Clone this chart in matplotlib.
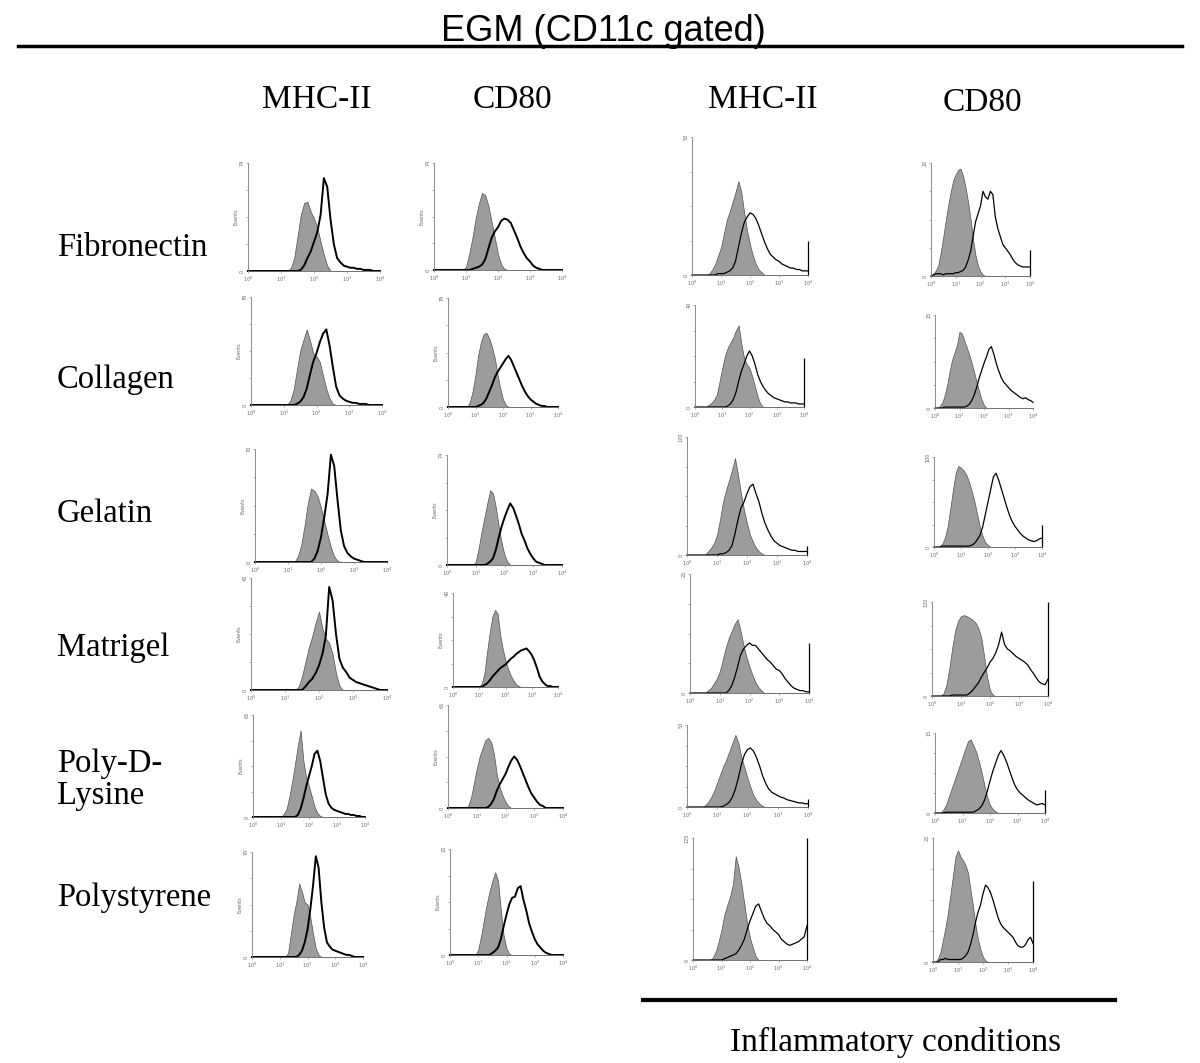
"""Flow cytometry histogram grid: EGM (CD11c gated)."""

import matplotlib
matplotlib.use("Agg")
import matplotlib.pyplot as plt
from matplotlib.lines import Line2D
import numpy as np

W, H = 1200, 1063
DEC = np.linspace(0, 4, 41)  # log10 fluorescence, 0.1-decade channels

ROWS = ["Fibronectin", "Collagen", "Gelatin", "Matrigel", "Poly-D-\nLysine", "Polystyrene"]
HEADERS = ["MHC-II", "CD80", "MHC-II", "CD80"]

# (first channel in decades, % of y-axis max) -- isotype (grey) and stained (black)
fib_mhc_iso = (1.2, [0, 3, 12, 32, 52, 63, 64, 55, 49, 40, 27, 15, 5, 0])
fib_mhc_pos = (1.6, [1, 5, 12, 18, 27, 36, 52, 86, 78, 48, 25, 12, 8, 5, 4, 3, 3, 2, 2, 1, 1, 1, 0])
fib_cd80_iso = (0.9, [0, 3, 15, 30, 48, 62, 72, 70, 60, 45, 30, 15, 5, 1, 0])
fib_cd80_pos = (1.1, [0, 1, 2, 3, 5, 10, 20, 30, 36, 40, 46, 48, 47, 44, 37, 30, 22, 16, 11, 8, 4, 2, 1, 0])
fib_mhc_inf_iso = (0.5, [0, 1, 4, 8, 14, 20, 30, 40, 46, 53, 60, 68, 60, 45, 32, 22, 14, 8, 4, 2, 0])
fib_mhc_inf_pos = (0.8, [0, 1, 1, 1, 2, 3, 5, 10, 20, 30, 38, 42, 45, 44, 41, 36, 30, 24, 19, 15,
                         13, 11, 10, 8, 7, 6, 5, 5, 4, 4, 3, 3, 3])
fib_cd80_inf_iso = (0.0, [0, 2, 5, 10, 22, 35, 50, 63, 75, 85, 90, 94, 95, 88, 78, 65, 50, 32, 18, 9, 4, 1, 0])
fib_cd80_inf_pos = (0.0, [0, 1, 2, 2, 2, 1, 2, 2, 2, 2, 3, 3, 4, 5, 8, 14, 22, 35, 48, 55, 62, 75, 70, 68,
                          75, 72, 52, 42, 35, 28, 25, 22, 19, 15, 12, 10, 9, 8, 8, 8, 8])

col_mhc_iso = (1.1, [0, 4, 14, 32, 50, 60, 70, 60, 48, 45, 40, 27, 15, 6, 1, 0])
col_mhc_pos = (1.3, [0, 1, 3, 7, 15, 28, 40, 48, 58, 66, 70, 55, 35, 17, 9, 6, 4, 3, 2, 2, 1, 1, 1, 0])
col_cd80_iso = (0.7, [0, 5, 15, 30, 48, 60, 67, 68, 63, 55, 45, 30, 17, 7, 2, 0])
col_cd80_pos = (1.0, [0, 1, 2, 4, 8, 14, 20, 27, 32, 36, 40, 44, 47, 43, 37, 31, 25, 19, 14, 10, 7, 5, 3, 2, 1, 1, 0])
col_mhc_inf_iso = (0.4, [0, 2, 4, 7, 12, 25, 38, 50, 58, 63, 68, 75, 80, 62, 48, 42, 38, 30, 20, 10, 3, 0])
col_mhc_inf_pos = (1.1, [0, 1, 3, 7, 14, 25, 35, 42, 50, 55, 50, 42, 32, 25, 20, 16, 13, 11, 9, 8,
                         7, 6, 5, 5, 4, 4, 4, 3, 3, 3])
col_cd80_inf_iso = (0.1, [0, 2, 6, 14, 25, 40, 52, 60, 68, 82, 80, 72, 65, 57, 48, 38, 28, 18, 9, 3, 0])
col_cd80_inf_pos = (0.3, [0, 1, 1, 1, 1, 1, 1, 1, 1, 1, 2, 4, 8, 14, 22, 32, 40, 48, 55, 63, 66, 58, 48,
                          40, 33, 28, 25, 22, 19, 17, 15, 13, 11, 10, 11, 9, 8, 6])

gel_mhc_iso = (1.2, [0, 5, 15, 32, 52, 65, 63, 58, 48, 36, 24, 13, 5, 1, 0])
gel_mhc_pos = (1.7, [0, 3, 10, 22, 40, 60, 95, 85, 55, 28, 14, 8, 5, 3, 2, 1, 0])
gel_cd80_iso = (0.9, [0, 3, 15, 30, 43, 56, 68, 65, 52, 35, 20, 9, 3, 0])
gel_cd80_pos = (1.3, [0, 1, 3, 6, 14, 25, 35, 43, 50, 56, 52, 45, 37, 28, 22, 15, 10, 6, 3, 2, 1, 0])
gel_mhc_inf_iso = (0.6, [0, 3, 6, 10, 17, 30, 45, 55, 63, 72, 82, 68, 52, 38, 27, 17, 11, 6, 3, 1, 0])
gel_mhc_inf_pos = (1.0, [0, 1, 1, 2, 4, 8, 18, 30, 40, 45, 52, 58, 60, 52, 45, 35, 27, 21, 16, 12,
                         10, 8, 7, 6, 5, 4, 4, 3, 3, 3, 3])
gel_cd80_inf_iso = (0.2, [0, 3, 10, 22, 42, 63, 82, 90, 88, 85, 80, 72, 62, 50, 36, 22, 12, 5, 2, 0])
gel_cd80_inf_pos = (0.2, [0, 1, 1, 1, 1, 1, 1, 1, 1, 1, 1, 1, 2, 4, 8, 13, 22, 36, 50, 64, 78, 82, 74,
                          64, 54, 44, 35, 28, 23, 19, 15, 12, 10, 8, 7, 6, 7, 9, 10])

mat_mhc_iso = (1.3, [0, 3, 12, 25, 38, 48, 60, 70, 55, 46, 42, 32, 15, 4, 0])
mat_mhc_pos = (1.5, [0, 3, 7, 10, 15, 22, 32, 48, 92, 80, 50, 28, 20, 16, 11, 9, 7, 6, 5, 4, 3, 2, 1, 0])
mat_cd80_iso = (1.0, [0, 4, 15, 38, 58, 75, 82, 78, 55, 40, 28, 19, 12, 7, 3, 1, 0])
mat_cd80_pos = (1.1, [0, 2, 4, 7, 11, 14, 17, 20, 22, 24, 27, 30, 32, 35, 37, 39, 40, 41, 38, 34,
                      28, 20, 11, 6, 3, 1, 1, 0])
mat_mhc_inf_iso = (0.5, [0, 2, 4, 8, 12, 18, 28, 38, 46, 52, 58, 62, 52, 40, 30, 22, 15, 9, 5, 2, 0])
mat_mhc_inf_pos = (1.2, [0, 2, 6, 13, 22, 32, 37, 40, 42, 40, 40, 37, 34, 31, 28, 26, 23, 20, 19, 16,
                         12, 9, 6, 4, 3, 2, 2, 1, 1])
mat_cd80_inf_iso = (0.3, [0, 3, 12, 30, 52, 70, 80, 85, 86, 85, 83, 81, 78, 72, 62, 42, 20, 6, 1, 0])
mat_cd80_inf_pos = (0.6, [0, 1, 1, 1, 1, 1, 1, 3, 6, 10, 14, 20, 25, 30, 36, 40, 46, 55, 68, 55, 50,
                          48, 45, 42, 40, 38, 36, 33, 28, 24, 19, 15, 13, 12, 18])

pdl_mhc_iso = (1.0, [0, 3, 8, 20, 35, 52, 70, 85, 55, 38, 30, 20, 10, 4, 1, 0])
pdl_mhc_pos = (1.5, [0, 2, 8, 18, 30, 40, 50, 62, 65, 55, 38, 22, 13, 9, 7, 6, 5, 4, 3, 3, 2, 2, 1, 1, 0])
pdl_cd80_iso = (0.6, [0, 2, 10, 24, 38, 50, 58, 66, 68, 64, 52, 32, 20, 12, 6, 2, 0])
pdl_cd80_pos = (1.3, [0, 1, 4, 9, 17, 23, 28, 33, 40, 46, 50, 47, 41, 34, 27, 20, 14, 10, 6, 3, 2, 0])
pdl_mhc_inf_iso = (0.5, [0, 2, 6, 12, 20, 30, 40, 50, 58, 68, 78, 88, 78, 60, 48, 35, 24, 14, 8, 4, 1, 0])
pdl_mhc_inf_pos = (1.1, [0, 1, 3, 6, 12, 22, 36, 52, 64, 70, 72, 68, 60, 50, 38, 29, 22, 18, 16, 14,
                         12, 11, 9, 8, 7, 6, 5, 5, 4, 4])
pdl_cd80_inf_iso = (0.2, [0, 4, 10, 20, 30, 40, 50, 60, 70, 80, 90, 92, 84, 76, 64, 50, 34, 20, 10, 5, 2, 0])
pdl_cd80_inf_pos = (0.3, [0, 1, 1, 1, 1, 1, 1, 1, 1, 1, 1, 1, 3, 5, 9, 16, 27, 40, 52, 62, 72, 78, 72,
                          64, 54, 44, 35, 29, 25, 22, 19, 16, 14, 12, 10, 11, 12, 10])

pst_mhc_iso = (1.2, [0, 4, 22, 40, 53, 70, 62, 52, 50, 38, 22, 8, 2, 0])
pst_mhc_pos = (1.6, [0, 2, 6, 14, 26, 45, 68, 96, 85, 52, 28, 14, 10, 7, 6, 5, 4, 3, 2, 2, 1, 0])
pst_cd80_iso = (0.9, [0, 5, 18, 33, 48, 60, 70, 78, 70, 42, 18, 6, 1, 0])
pst_cd80_pos = (1.4, [0, 2, 4, 7, 15, 27, 38, 48, 54, 55, 63, 65, 52, 42, 30, 22, 15, 10, 7, 4, 2, 1, 0])
pst_mhc_inf_iso = (0.6, [0, 2, 7, 15, 25, 37, 45, 52, 62, 85, 76, 62, 46, 30, 18, 10, 3, 0])
pst_mhc_inf_pos = (1.0, [0, 1, 2, 3, 4, 5, 8, 12, 17, 25, 32, 38, 44, 46, 40, 34, 30, 28, 25, 23,
                         21, 17, 15, 13, 12, 13, 14, 15, 17, 19, 28])
pst_cd80_inf_iso = (0.1, [0, 3, 8, 18, 28, 40, 55, 70, 85, 90, 85, 82, 78, 72, 58, 45, 30, 18, 10, 4, 1, 0])
pst_cd80_inf_pos = (0.2, [0, 2, 2, 3, 2, 2, 2, 2, 2, 2, 3, 5, 8, 14, 22, 32, 40, 46, 55, 62, 60, 56, 50,
                          43, 36, 31, 28, 26, 24, 22, 20, 16, 13, 12, 12, 14, 18, 20, 15])

# off-scale pile-up in the last channel (% of y max)
SPIKES = [[0, 0, 25, 23], [0, 0, 48, 0], [0, 0, 8, 24],
          [0, 0, 42, 100], [0, 0, 10, 29], [0, 0, 100, 65]]
YMAX = [["74", "74", "50", "20"], ["79", "79", "40", "15"], ["70", "74", "120", "100"],
        ["43", "40", "25", "120"], ["65", "65", "50", "15"], ["70", "20", "125", "25"]]

PANELS = [
    [(fib_mhc_iso, fib_mhc_pos), (fib_cd80_iso, fib_cd80_pos),
     (fib_mhc_inf_iso, fib_mhc_inf_pos), (fib_cd80_inf_iso, fib_cd80_inf_pos)],
    [(col_mhc_iso, col_mhc_pos), (col_cd80_iso, col_cd80_pos),
     (col_mhc_inf_iso, col_mhc_inf_pos), (col_cd80_inf_iso, col_cd80_inf_pos)],
    [(gel_mhc_iso, gel_mhc_pos), (gel_cd80_iso, gel_cd80_pos),
     (gel_mhc_inf_iso, gel_mhc_inf_pos), (gel_cd80_inf_iso, gel_cd80_inf_pos)],
    [(mat_mhc_iso, mat_mhc_pos), (mat_cd80_iso, mat_cd80_pos),
     (mat_mhc_inf_iso, mat_mhc_inf_pos), (mat_cd80_inf_iso, mat_cd80_inf_pos)],
    [(pdl_mhc_iso, pdl_mhc_pos), (pdl_cd80_iso, pdl_cd80_pos),
     (pdl_mhc_inf_iso, pdl_mhc_inf_pos), (pdl_cd80_inf_iso, pdl_cd80_inf_pos)],
    [(pst_mhc_iso, pst_mhc_pos), (pst_cd80_iso, pst_cd80_pos),
     (pst_mhc_inf_iso, pst_mhc_inf_pos), (pst_cd80_inf_iso, pst_cd80_inf_pos)],
]

# panel boxes in pixels: left, top, right, bottom
BOXES = [
    [(248, 163, 380, 271), (434, 163, 562, 270), (692, 137, 808, 275), (931, 163, 1030, 276)],
    [(251, 297, 382, 405), (448, 298, 558, 407), (695, 305, 804, 407), (935, 315, 1033, 408)],
    [(255, 449, 387, 562), (447, 455, 562, 565), (687, 437, 807, 555), (934, 457, 1042, 547)],
    [(251, 578, 387, 690), (453, 593, 558, 687), (690, 574, 809, 693), (932, 602, 1048, 696)],
    [(253, 715, 365, 817), (448, 705, 563, 808), (687, 725, 808, 807), (935, 733, 1045, 813)],
    [(252, 852, 363, 957), (450, 849, 563, 955), (693, 838, 807, 960), (933, 838, 1033, 962)],
]

SERIF = "Liberation Serif"
SANS = "Liberation Sans"
AX_GREY = "#7a7a7a"


def trace(spec):
    start, vals = spec
    out = np.zeros(DEC.size)
    i = int(round(start * 10))
    vals = vals[:DEC.size - i]
    out[i:i + len(vals)] = vals
    return out


def fx(x):
    return x / W


def fy(y):
    return 1 - y / H


def draw_panel(fig, box, iso, pos, spike, ymax, col):
    l, t, r, b = box
    ax = fig.add_axes([fx(l), fy(b), (r - l) / W, (b - t) / H])
    inflamed = col >= 2
    lw = 0.9 if inflamed else 1.4
    ax.fill_between(DEC, trace(iso), 0, facecolor="#9c9c9c", edgecolor="#505050", linewidth=0.5)
    ax.plot(DEC, trace(pos), color="black", linewidth=lw, clip_on=False)
    if spike:
        ax.vlines(4, 0, spike, color="black", linewidth=lw, clip_on=False)
    ax.set_xlim(0, 4)
    ax.set_ylim(0, 100)
    ax.spines["top"].set_visible(False)
    ax.spines["right"].set_visible(False)
    for s in ("left", "bottom"):
        ax.spines[s].set_color(AX_GREY)
        ax.spines[s].set_linewidth(0.6)
    ax.set_xticks(range(5))
    ax.set_xticklabels([f"$10^{k}$" for k in range(5)], fontsize=3.5, color="#666666")
    ax.set_yticks([0, 25, 50, 75, 100])
    ax.set_yticklabels(["0", "", "", "", ymax], fontsize=3.5, color="#666666",
                       rotation=90, va="center")
    ax.tick_params(length=1.5, width=0.4, pad=1, color=AX_GREY)
    if not inflamed:
        ax.set_ylabel("Events", fontsize=3.5, color="#666666", labelpad=1)
    ax.patch.set_alpha(0)


fig = plt.figure(figsize=(W / 100, H / 100), dpi=100, facecolor="white")

for ri in range(len(ROWS)):
    for ci in range(len(HEADERS)):
        iso, pos = PANELS[ri][ci]
        draw_panel(fig, BOXES[ri][ci], iso, pos, SPIKES[ri][ci], YMAX[ri][ci], ci)

# title and rule
fig.text(fx(603), fy(41), "EGM (CD11c gated)", fontsize=26, family=SANS, ha="center", va="baseline")
fig.add_artist(Line2D([fx(18), fx(1182)], [fy(46), fy(46)], color="black", linewidth=2.5))

for x, y, lab in zip([317, 512, 763, 982], [100, 100, 100, 103], HEADERS):
    fig.text(fx(x), fy(y), lab, fontsize=24, family=SERIF, ha="center", va="center")

for y, lab in zip([248, 380, 514, 648, 780, 898], ROWS):
    fig.text(fx(57), fy(y), lab, fontsize=23.5, family=SERIF, ha="left", va="center",
             linespacing=1.05)

fig.add_artist(Line2D([fx(643), fx(1115)], [fy(1000), fy(1000)], color="black", linewidth=3))
fig.text(fx(896), fy(1042), "Inflammatory conditions", fontsize=24, family=SERIF,
         ha="center", va="center")

fig.savefig("out.png", dpi=100, facecolor="white")
